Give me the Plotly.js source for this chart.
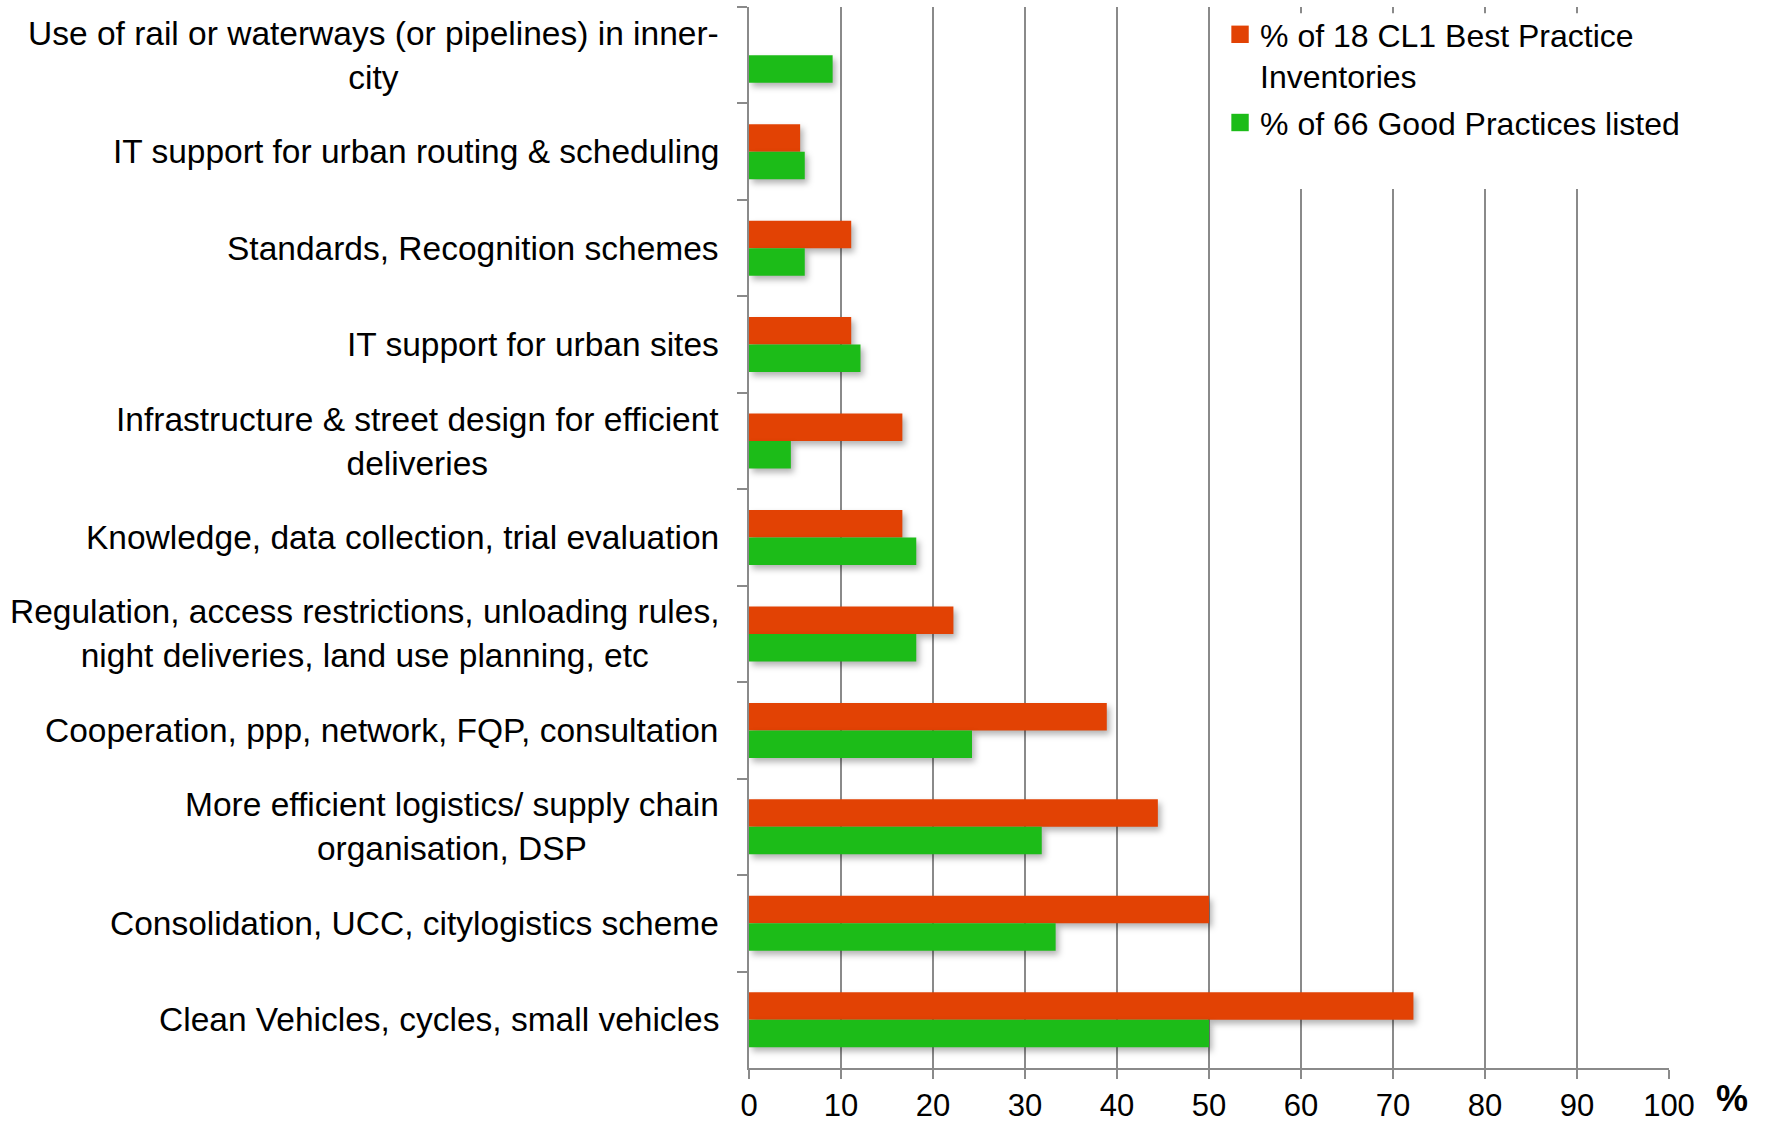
<!DOCTYPE html>
<html>
<head>
<meta charset="utf-8">
<script src="https://cdn.plot.ly/plotly-3.0.1.min.js"></script>
<style>
  html, body { margin: 0; padding: 0; background: #ffffff; }
  #chart { width: 1767px; height: 1122px; }
  .trace.bars g.point path { filter: drop-shadow(3px 4px 3px rgba(0,0,0,0.30)); }
  .legend .legendpoints path { transform: translate(20px, 0px) scale(1.45); }
</style>
</head>
<body>
<div id="chart"></div>
<script>
// Categories, listed top to bottom as in the reference
const categories = [
  "Use of rail or waterways (or pipelines) in inner-<br>city",
  "IT support for urban routing & scheduling",
  "Standards, Recognition schemes",
  "IT support for urban sites",
  "Infrastructure & street design for efficient<br>deliveries",
  "Knowledge, data collection, trial evaluation",
  "Regulation, access restrictions, unloading rules,<br>night deliveries, land use planning, etc",
  "Cooperation, ppp, network, FQP, consultation",
  "More efficient logistics/ supply chain<br>organisation, DSP",
  "Consolidation, UCC, citylogistics scheme",
  "Clean Vehicles, cycles, small vehicles"
];

// % of 18 CL1 Best Practice Inventories
const bestPracticeValues = [0, 5.56, 11.11, 11.11, 16.67, 16.67, 22.22, 38.89, 44.44, 50.0, 72.22];
// % of 66 Good Practices listed
const goodPracticeValues = [9.09, 6.06, 6.06, 12.12, 4.55, 18.18, 18.18, 24.24, 31.82, 33.33, 50.0];

const seriesNames = ["% of 18 CL1 Best Practice<br>Inventories", "% of 66 Good Practices listed"];
const seriesColors = ["#E24204", "#1CBC18"];

const xTickValues = [0, 10, 20, 30, 40, 50, 60, 70, 80, 90, 100];
const xUnitLabel = "%";

const FONT = "'Liberation Sans', Arial, Helvetica, sans-serif";
const GRAY = "#8a8a8a";

const traces = [
  {
    type: "bar", orientation: "h",
    name: seriesNames[0], y: categories, x: bestPracticeValues,
    marker: { color: seriesColors[0] },
    legendgroup: "a", hoverinfo: "x+name"
  },
  {
    type: "bar", orientation: "h",
    name: seriesNames[1], y: categories, x: goodPracticeValues,
    marker: { color: seriesColors[1] },
    legendgroup: "b", hoverinfo: "x+name"
  }
];

const annotations = categories.map(c => ({
  xref: "paper", x: 0, xanchor: "right", xshift: -28,
  yref: "y", y: c, yanchor: "middle",
  text: c, align: "center", showarrow: false,
  font: { family: FONT, size: 33.5, color: "#000000" }
}));
annotations.push({
  xref: "paper", x: 1, xshift: 63, xanchor: "center",
  yref: "paper", y: 0, yshift: -30, yanchor: "middle",
  text: "<b>" + xUnitLabel + "</b>", showarrow: false,
  font: { family: FONT, size: 36, color: "#000000" }
});

const layout = {
  width: 1767, height: 1122,
  margin: { l: 749, r: 98, t: 7, b: 54 },
  paper_bgcolor: "#ffffff", plot_bgcolor: "#ffffff",
  font: { family: FONT, size: 32, color: "#000000" },
  barmode: "group",
  bargap: 0.43, bargroupgap: 0,
  showlegend: true,
  legend: {
    x: 0.512, xanchor: "left", y: 1.0, yanchor: "top",
    bgcolor: "rgba(255,255,255,0)", borderwidth: 0,
    font: { family: FONT, size: 32, color: "#000000" },
    traceorder: "grouped", tracegroupgap: 2, valign: "top"
  },
  shapes: [{
    type: "rect", xref: "paper", yref: "paper",
    x0: 0.515, x1: 1.04, y0: 0.8285, y1: 0.994,
    fillcolor: "#ffffff", line: { width: 0 }, layer: "above"
  }],
  xaxis: {
    range: [0, 100], tickvals: xTickValues, ticktext: xTickValues.map(String),
    showgrid: true, gridcolor: GRAY, gridwidth: 1.5,
    zeroline: false,
    showline: true, linecolor: GRAY, linewidth: 2,
    ticks: "outside", ticklen: 9, tickwidth: 2, tickcolor: GRAY,
    tickfont: { family: FONT, size: 31, color: "#000000" },
    fixedrange: true
  },
  yaxis: {
    type: "category", categoryorder: "array", categoryarray: categories,
    autorange: "reversed",
    showticklabels: false,
    showgrid: false, zeroline: false,
    showline: true, linecolor: GRAY, linewidth: 2,
    ticks: "outside", tickson: "boundaries", ticklen: 10, tickwidth: 2, tickcolor: GRAY,
    fixedrange: true
  },
  annotations: annotations
};

Plotly.newPlot("chart", traces, layout, { displayModeBar: false, staticPlot: true });
</script>
</body>
</html>
